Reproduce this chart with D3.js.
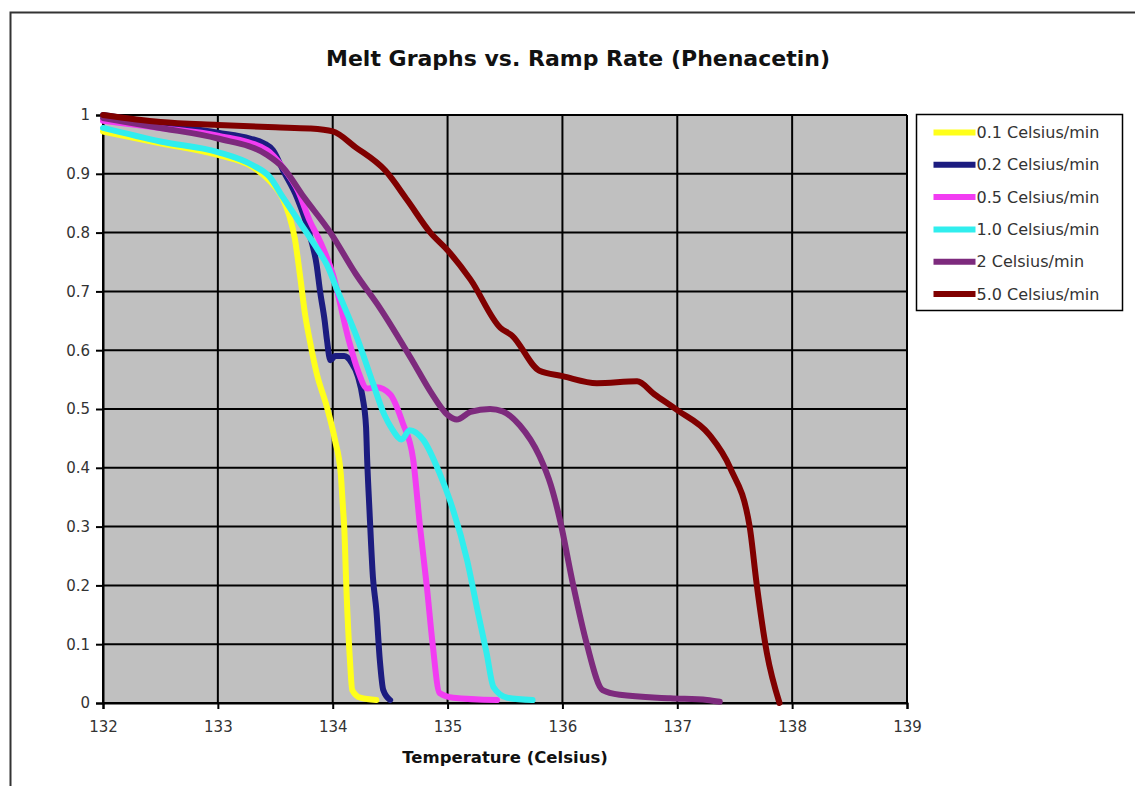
<!DOCTYPE html>
<html>
<head>
<meta charset="utf-8">
<script src="https://cdn.jsdelivr.net/npm/d3@7"></script>
<style>
  body { margin: 0; background: #fff; }
  text { font-family: "DejaVu Sans", Verdana, sans-serif; }
</style>
</head>
<body>
<svg id="chart"></svg>
<script>
// tick values
var tempTicks = [132, 133, 134, 135, 136, 137, 138, 139];
var fracTicks = [0, 0.1, 0.2, 0.3, 0.4, 0.5, 0.6, 0.7, 0.8, 0.9, 1];

// legend labels, in drawing order
var seriesNames = ["0.1 Celsius/min", "0.2 Celsius/min", "0.5 Celsius/min",
                   "1.0 Celsius/min", "2 Celsius/min", "5.0 Celsius/min"];
var seriesColors = ["#ffff1a", "#1c1c80", "#f23cf2", "#30eeee", "#7d2a7d", "#800000"];

// [temperature, fraction]
var rate01 = [[132.0,0.972],[132.5,0.952],[133.0,0.932],[133.3,0.912],[133.45,0.888],[133.57,0.856],
  [133.62,0.83],[133.67,0.79],[133.72,0.72],[133.76,0.66],[133.8,0.617],[133.86,0.561],[133.95,0.503],
  [134.02,0.447],[134.07,0.39],[134.09,0.33],[134.1,0.30],[134.12,0.19],[134.15,0.073],[134.17,0.022],
  [134.24,0.009],[134.38,0.005]];
var rate02 = [[132.0,1.0],[132.5,0.985],[133.0,0.97],[133.28,0.96],[133.4,0.952],[133.48,0.94],
  [133.57,0.905],[133.69,0.859],[133.8,0.796],[133.86,0.745],[133.89,0.70],[133.93,0.65],[133.95,0.617],
  [133.98,0.583],[134.02,0.59],[134.1,0.59],[134.16,0.58],[134.22,0.555],[134.26,0.52],[134.29,0.47],
  [134.3,0.413],[134.32,0.328],[134.35,0.214],[134.38,0.158],[134.41,0.073],[134.44,0.022],[134.5,0.005]];
var rate05 = [[132.0,0.99],[132.5,0.978],[133.0,0.965],[133.43,0.94],[133.57,0.91],[133.7,0.87],
  [133.8,0.82],[133.89,0.785],[134.0,0.73],[134.14,0.617],[134.22,0.565],[134.3,0.535],[134.38,0.537],
  [134.5,0.525],[134.61,0.476],[134.7,0.415],[134.76,0.30],[134.82,0.197],[134.87,0.10],[134.93,0.017],
  [135.05,0.009],[135.43,0.005]];
var rate10 = [[132.0,0.978],[132.5,0.955],[133.0,0.937],[133.3,0.915],[133.45,0.895],[133.57,0.859],
  [133.72,0.815],[133.86,0.774],[133.95,0.745],[134.04,0.702],[134.22,0.617],[134.35,0.544],[134.45,0.49],
  [134.52,0.465],[134.6,0.448],[134.67,0.464],[134.79,0.447],[134.93,0.391],[135.02,0.345],[135.17,0.243],
  [135.26,0.158],[135.34,0.085],[135.4,0.027],[135.52,0.009],[135.74,0.005]];
var rate2 = [[132.0,0.995],[132.5,0.978],[133.0,0.96],[133.43,0.932],[133.57,0.91],[133.75,0.86],
  [133.98,0.80],[134.2,0.73],[134.41,0.672],[134.7,0.58],[134.85,0.53],[135.0,0.49],[135.08,0.482],
  [135.2,0.495],[135.37,0.50],[135.48,0.496],[135.63,0.472],[135.8,0.42],[135.9,0.37],[135.98,0.31],
  [136.09,0.204],[136.21,0.102],[136.35,0.022],[136.5,0.014],[136.94,0.008],[137.26,0.005],[137.37,0.002]];
var rate5 = [[132.0,1.0],[132.5,0.988],[133.0,0.983],[133.5,0.979],[133.8,0.977],[134.0,0.972],
  [134.2,0.945],[134.46,0.905],[134.65,0.855],[134.85,0.80],[135.0,0.77],[135.2,0.72],[135.46,0.638],
  [135.56,0.625],[135.8,0.565],[136.0,0.556],[136.3,0.544],[136.65,0.547],[136.8,0.525],[137.0,0.498],
  [137.28,0.456],[137.46,0.40],[137.63,0.30],[137.69,0.204],[137.78,0.085],[137.89,0.0]];

var allSeries = [rate01, rate02, rate05, rate10, rate2, rate5];

var svgWidth = 1135, svgHeight = 786;
var margin = {top: 115, right: 228, bottom: 83, left: 103};
var width = svgWidth - margin.left - margin.right;
var height = svgHeight - margin.top - margin.bottom;

var chart = d3.select("#chart")
    .attr("width", svgWidth)
    .attr("height", svgHeight);

// outer frame (left and top edges only are visible)
chart.append("path")
    .attr("d", "M10.5,786 V12.5 H1135")
    .attr("fill", "none")
    .attr("stroke", "#333")
    .attr("stroke-width", 2);

chart.append("text")
    .attr("x", 578)
    .attr("y", 66)
    .attr("text-anchor", "middle")
    .attr("font-size", 22)
    .attr("font-weight", "bold")
    .attr("fill", "#111")
    .text("Melt Graphs vs. Ramp Rate (Phenacetin)");

var x = d3.scaleLinear().domain([132, 139]).range([0, width]);
var y = d3.scaleLinear().domain([0, 1]).range([height, 0]);

var main = chart.append("g")
    .attr("transform", "translate(" + margin.left + "," + margin.top + ")");

main.append("rect")
    .attr("width", width)
    .attr("height", height)
    .attr("fill", "#c0c0c0");

// grid
main.append("g").selectAll("line.v")
    .data(tempTicks)
    .enter().append("line")
      .attr("x1", function (d) { return x(d); })
      .attr("x2", function (d) { return x(d); })
      .attr("y1", 0).attr("y2", height)
      .attr("stroke", "#000").attr("stroke-width", 2);
main.append("g").selectAll("line.h")
    .data(fracTicks)
    .enter().append("line")
      .attr("y1", function (d) { return y(d); })
      .attr("y2", function (d) { return y(d); })
      .attr("x1", 0).attr("x2", width)
      .attr("stroke", "#000").attr("stroke-width", 2);

// axes
var xAxis = d3.axisBottom(x).tickValues(tempTicks).tickSize(6).tickPadding(12)
    .tickFormat(d3.format("d"));
var gx = main.append("g")
    .attr("transform", "translate(0," + height + ")")
    .call(xAxis);

var yAxis = d3.axisLeft(y).tickValues(fracTicks).tickSize(7).tickPadding(6)
    .tickFormat(function (d) { return d === 0 || d === 1 ? d : d3.format(".1f")(d); });
var gy = main.append("g").call(yAxis);

[gx, gy].forEach(function (g) {
    g.select(".domain").attr("stroke", "#000").attr("stroke-width", 2);
    g.selectAll(".tick line").attr("stroke", "#000").attr("stroke-width", 2);
    g.selectAll(".tick text")
        .attr("fill", "#333")
        .attr("font-size", 15)
        .attr("font-family", "DejaVu Sans, Verdana, sans-serif");
});

chart.append("text")
    .attr("x", margin.left + width / 2)
    .attr("y", 763)
    .attr("text-anchor", "middle")
    .attr("font-size", 16.5)
    .attr("font-weight", "bold")
    .attr("fill", "#111")
    .text("Temperature (Celsius)");

// melt curves
var line = d3.line()
    .x(function (d) { return x(d[0]); })
    .y(function (d) { return y(d[1]); })
    .curve(d3.curveMonotoneX);

main.append("g").selectAll("path")
    .data(allSeries)
    .enter().append("path")
      .attr("d", line)
      .attr("fill", "none")
      .attr("stroke", function (d, i) { return seriesColors[i]; })
      .attr("stroke-width", 6)
      .attr("stroke-linejoin", "round")
      .attr("stroke-linecap", "round");

// legend
var legend = chart.append("g").attr("transform", "translate(916.5,114.5)");
legend.append("rect")
    .attr("width", 206).attr("height", 196)
    .attr("fill", "#fff").attr("stroke", "#000").attr("stroke-width", 1.5);

var item = legend.selectAll("g.item")
    .data(seriesNames)
    .enter().append("g")
      .attr("transform", function (d, i) { return "translate(0," + (18 + i * 32.3) + ")"; });
item.append("line")
    .attr("x1", 17).attr("x2", 59)
    .attr("stroke", function (d, i) { return seriesColors[i]; })
    .attr("stroke-width", 6);
item.append("text")
    .attr("x", 60).attr("dy", "0.35em")
    .attr("font-size", 16)
    .attr("fill", "#333")
    .text(function (d) { return d; });
</script>
</body>
</html>
